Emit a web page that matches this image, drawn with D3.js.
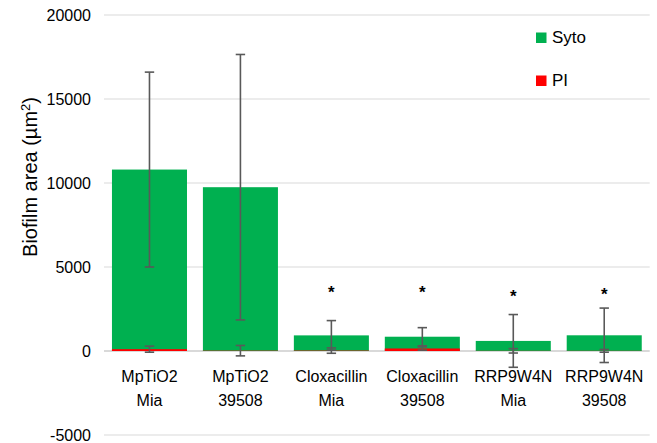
<!DOCTYPE html>
<html>
<head>
<meta charset="utf-8">
<script src="https://cdn.jsdelivr.net/npm/d3@7"></script>
<style>
  html, body { margin: 0; padding: 0; background: #fff; }
  svg { display: block; font-family: "Liberation Sans", Arial, Helvetica, sans-serif; }
</style>
</head>
<body>
<svg id="chart" width="657" height="443"></svg>
<script>
// Treatment groups (two-line labels)
const categories = ["MpTiO2|Mia", "MpTiO2|39508", "Cloxacillin|Mia", "Cloxacillin|39508", "RRP9W4N|Mia", "RRP9W4N|39508"];
// Mean biofilm area (µm²) per stain
const syto    = [10800, 9750, 930, 850, 600, 935];
const sytoErr = [5800, 7900, 880, 540, 1570, 1620];
const pi      = [110, 20, 25, 150, 10, 10];
const piErr   = [180, 310, 160, 100, 130, 80];
// Significance markers: group and height (µm²) where the asterisk sits
const sigGroups = ["Cloxacillin|Mia", "Cloxacillin|39508", "RRP9W4N|Mia", "RRP9W4N|39508"];
const sigLevels = [3700, 3700, 3480, 3600];
// Value axis ticks
const yTicks = [-5000, 0, 5000, 10000, 15000, 20000];

const svg = d3.select("#chart");
const plot = { left: 104, right: 649.7, top: 15, bottom: 435 };

const x = d3.scaleBand().domain(categories).range([plot.left, plot.right]).paddingInner(0.175).paddingOuter(0.0875);
const y = d3.scaleLinear().domain([-5000, 20000]).range([plot.bottom, plot.top]);

// Gridlines
svg.append("g").selectAll("line").data(yTicks).join("line")
  .attr("x1", plot.left).attr("x2", plot.right)
  .attr("y1", d => y(d)).attr("y2", d => y(d))
  .attr("stroke", "#d9d9d9")
  .attr("stroke-width", d => d === 0 ? 2 : 1.2);

// Value axis labels
svg.append("g").selectAll("text").data(yTicks).join("text")
  .attr("x", 91).attr("y", d => y(d)).attr("dy", "0.35em")
  .attr("text-anchor", "end").attr("font-size", 16).attr("fill", "#000")
  .text(d => d);

// Axis title
const title = svg.append("text")
  .attr("transform", "translate(37,177) rotate(-90)")
  .attr("text-anchor", "middle").attr("font-size", 20).attr("fill", "#000");
title.append("tspan").text("Biofilm area (µm");
title.append("tspan").attr("font-size", 13).attr("dy", -7).text("2");
title.append("tspan").attr("dy", 7).text(")");

// Bars: Syto (green) with PI (red) overlaid from zero
svg.append("g").selectAll("rect").data(categories).join("rect")
  .attr("x", d => x(d)).attr("width", x.bandwidth())
  .attr("y", (d, i) => y(Math.max(0, syto[i])))
  .attr("height", (d, i) => Math.abs(y(syto[i]) - y(0)))
  .attr("fill", "#00b050");
svg.append("g").selectAll("rect").data(categories).join("rect")
  .attr("x", d => x(d)).attr("width", x.bandwidth())
  .attr("y", (d, i) => y(Math.max(0, pi[i])))
  .attr("height", (d, i) => Math.abs(y(pi[i]) - y(0)))
  .attr("fill", "#ff0000");

// Error bars
function errorBars(means, errs) {
  const g = svg.append("g").attr("stroke", "#595959").attr("stroke-width", 1.6);
  categories.forEach((c, i) => {
    const cx = x(c) + x.bandwidth() / 2;
    const hi = y(means[i] + errs[i]), lo = y(means[i] - errs[i]);
    g.append("line").attr("x1", cx).attr("x2", cx).attr("y1", hi).attr("y2", lo);
    g.append("line").attr("x1", cx - 4.7).attr("x2", cx + 4.7).attr("y1", hi).attr("y2", hi);
    g.append("line").attr("x1", cx - 4.7).attr("x2", cx + 4.7).attr("y1", lo).attr("y2", lo);
  });
}
errorBars(syto, sytoErr);
errorBars(pi, piErr);

// Significance asterisks
svg.append("g").selectAll("text").data(sigGroups).join("text")
  .attr("x", d => x(d) + x.bandwidth() / 2)
  .attr("y", (d, i) => y(sigLevels[i]) + 9)
  .attr("text-anchor", "middle").attr("font-size", 17).attr("font-weight", "bold")
  .attr("fill", "#000").text("*");

// Category labels
const cat = svg.append("g").selectAll("text").data(categories).join("text")
  .attr("text-anchor", "middle").attr("font-size", 16).attr("fill", "#000");
cat.each(function(d) {
  const t = d3.select(this), cx = x(d) + x.bandwidth() / 2;
  d.split("|").forEach((line, k) => {
    t.append("tspan").attr("x", cx).attr("y", 382 + k * 23.5).text(line);
  });
});

// Legend
const legend = [{ name: "Syto", color: "#00b050", y: 43 }, { name: "PI", color: "#ff0000", y: 86 }];
const lg = svg.append("g");
lg.selectAll("rect").data(legend).join("rect")
  .attr("x", 536).attr("y", d => d.y - 10.5).attr("width", 10.5).attr("height", 10.5)
  .attr("fill", d => d.color);
lg.selectAll("text").data(legend).join("text")
  .attr("x", 552).attr("y", d => d.y).attr("font-size", 17).attr("fill", "#000")
  .text(d => d.name);
</script>
</body>
</html>
